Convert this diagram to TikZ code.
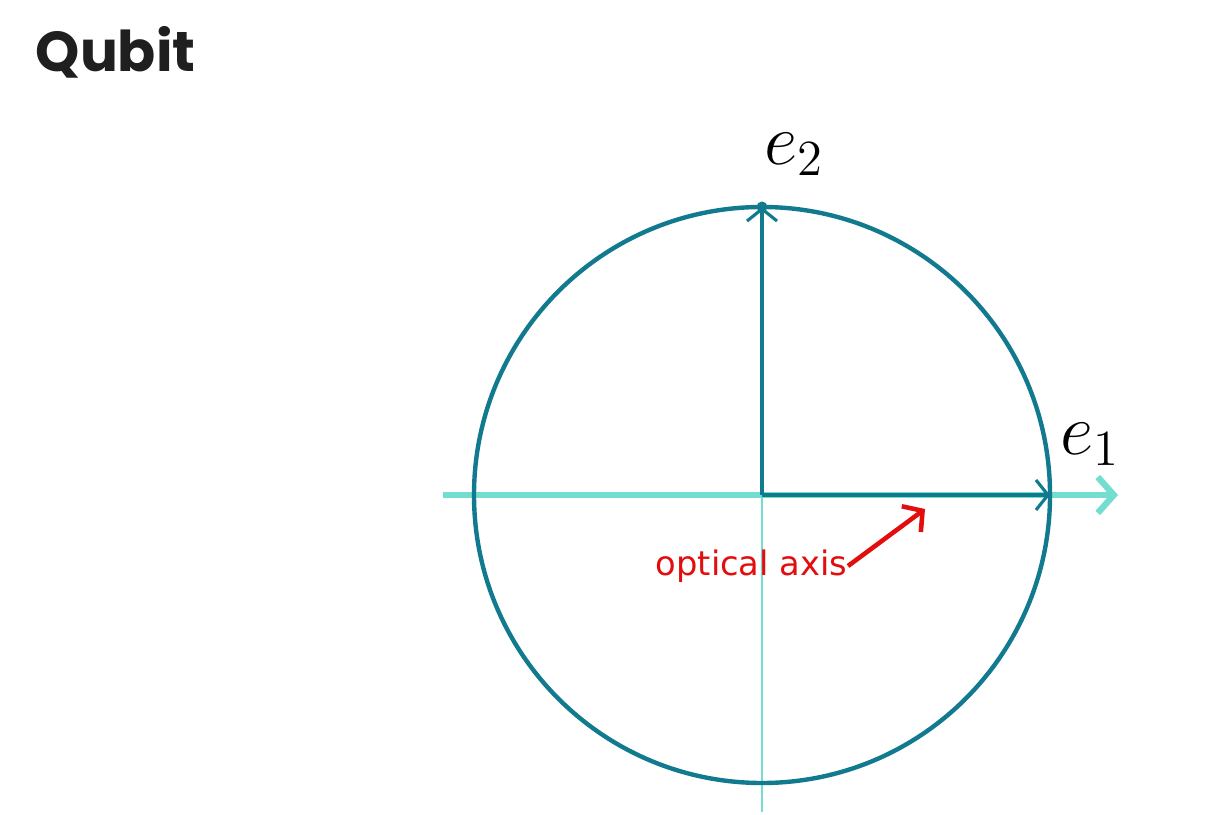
\documentclass[tikz,border=0pt]{standalone}
\usepackage{fontspec}
\newfontfamily\titlefont{Poppins}
\newfontfamily\notefont{DejaVu Sans}
\usetikzlibrary{arrows.meta,positioning}
\definecolor{deepteal}{RGB}{18,122,142}
\definecolor{aqua}{RGB}{115,222,208}
\definecolor{signal}{RGB}{226,14,14}
\tikzset{
  axisline/.style={draw=aqua,line width=1.8pt,-{Straight Barb[length=1.6mm,width=3.6mm,line width=1.8pt]}},
  guide/.style={draw=aqua,line width=0.6pt},
  basis/.style={draw=deepteal,line width=0.9pt,-{Straight Barb[length=1.2mm,width=3mm,line width=0.9pt]}},
  rim/.style={draw=deepteal,line width=1.25pt},
  veclabel/.style={font=\fontsize{20}{24}\selectfont,inner sep=0pt},
  note/.style={font=\notefont\fontsize{9.6}{11}\selectfont,text=signal,inner sep=0pt},
  pointer/.style={draw=signal,line width=1.3pt,-{Straight Barb[length=1.4mm,width=3.2mm,line width=1.3pt]}},
}

\begin{document}
\begin{tikzpicture}
  \useasboundingbox (0,0) rectangle (12.19,8.14);
  \node[anchor=base west,inner sep=0pt,font=\titlefont\bfseries\fontsize{16}{19}\selectfont,text=black!88] (title) at (0.35,7.42) {Qubit};

  \coordinate (o) at (7.62,3.19);
  \coordinate (east) at (10.50,3.19);
  \coordinate (north) at (7.62,6.07);
  \coordinate (left) at (4.43,3.19);
  \coordinate (right) at (11.18,3.19);
  \coordinate (bottom) at (7.62,0.02);

  % axes
  \draw[guide] (o) -- (bottom);
  \draw[axisline] (left) -- (right);
  \draw[rim] (o) circle (2.88);

  % basis vectors
  \draw[basis] (o) -- (east);
  \draw[basis] (o) -- (north);
  \fill[deepteal] (north) circle (0.055);
  \node[veclabel] (e2) at (7.94,6.60) {$e_2$};
  \node[veclabel] (e1) at (10.90,3.70) {$e_1$};

  \node[note] (optic) at (7.515,2.48) {optical axis};
  \coordinate (tip) at (9.25,3.05);
  \draw[pointer] (optic.east) -- (tip);
\end{tikzpicture}
\end{document}
